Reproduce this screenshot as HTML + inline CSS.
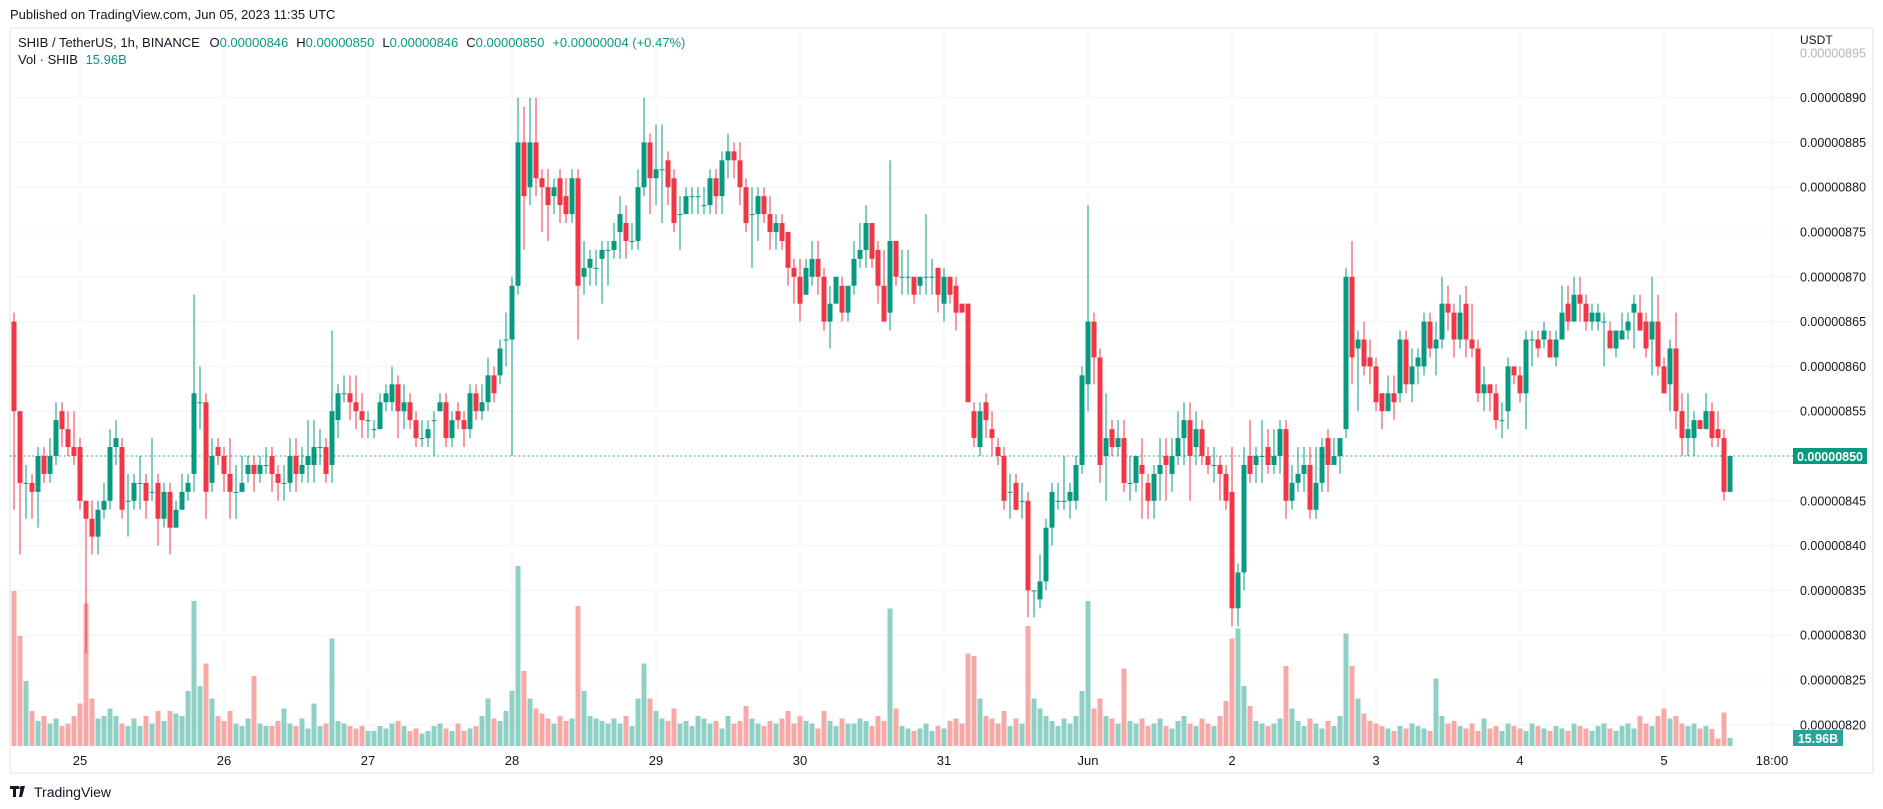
<!DOCTYPE html>
<html><head><meta charset="utf-8"><style>
html,body{margin:0;padding:0;background:#fff;width:1883px;height:809px;overflow:hidden;font-family:"Liberation Sans",sans-serif}
svg{display:block}
</style></head><body>
<svg id="chart" width="1883" height="809" viewBox="0 0 1883 809" xmlns="http://www.w3.org/2000/svg">
<rect x="0" y="0" width="1883" height="809" fill="#fff"/>
<text x="10" y="19" font-size="13" fill="#131722" font-family="Liberation Sans, sans-serif">Published on TradingView.com, Jun 05, 2023 11:35 UTC</text>
<rect x="10" y="28" width="1863" height="745" fill="none" stroke="#e0e3eb" stroke-width="1"/>
<g id="grid"></g>
<g id="vols"></g>
<line x1="10" y1="456" x2="1793" y2="456" stroke="#089981" stroke-width="1" stroke-dasharray="1.5,3"/>
<g id="candles"></g>
<g id="yaxis"></g>
<g id="xaxis"></g>
<text x="1800" y="44" font-size="12" fill="#131722">USDT</text>
<text x="18" y="47" font-size="13" fill="#131722">SHIB / TetherUS, 1h, BINANCE <tspan dx="6">O</tspan><tspan fill="#089981">0.00000846</tspan><tspan dx="8">H</tspan><tspan fill="#089981">0.00000850</tspan><tspan dx="8">L</tspan><tspan fill="#089981">0.00000846</tspan><tspan dx="8">C</tspan><tspan fill="#089981">0.00000850</tspan><tspan dx="8" fill="#089981">+0.00000004 (+0.47%)</tspan></text>
<text x="18" y="64" font-size="13" fill="#131722">Vol · SHIB <tspan dx="4" fill="#089981">15.96B</tspan></text>
<rect x="1793" y="448" width="74" height="16" fill="#089981"/>
<text x="1830" y="461" font-size="12.5" font-weight="bold" fill="#fff" text-anchor="middle">0.00000850</text>
<rect x="1793" y="730" width="50" height="16" fill="#26a69a"/>
<text x="1818" y="743" font-size="12.5" font-weight="bold" fill="#fff" text-anchor="middle">15.96B</text>
<g>
<path d="M10 786h9v3h-3v8h-3v-8h-3z M21 786h4l-3 11h-3z" fill="#131722"/>
<circle cx="21" cy="788" r="1.6" fill="#131722"/>
<text x="34" y="797" font-size="14" fill="#131722">TradingView</text>
</g>
</svg>
<script>
const opens=[865,855,847,847,846,850,848,850,855,853,851,851,845,843,841,844,845,851,851,845,845,847,847,846,847,843,846,842,844,846,848,856,856,847,851,850,848,846,846,848,849,848,849,850,848,847,847,850,848,849,849,851,851,849,854,857,857,856,855,854,853,853,856,856,858,855,856,854,852,852,854,855,856,852,855,854,853,857,855,856,859,859,863,863,869,885,880,885,881,880,879,881,879,877,881,870,871,871,872,873,873,875,876,874,874,880,885,881,882,883,881,877,877,879,879,878,878,881,879,883,884,883,880,877,877,879,877,875,876,875,871,870,868,870,872,870,865,867,869,866,869,872,873,876,873,869,866,874,870,870,870,869,870,870,871,867,870,869,867,867,855,851,856,853,851,850,846,847,845,845,835,834,836,842,845,845,845,845,849,858,865,861,850,853,851,852,847,847,849,847,845,848,850,848,850,852,854,851,853,850,849,849,848,846,833,837,850,849,850,851,849,850,853,845,847,848,849,844,847,852,849,850,853,870,862,863,861,860,857,855,857,857,863,858,860,860,865,862,863,867,866,863,867,863,862,857,858,857,854,855,860,859,857,863,863,863,863,861,863,867,865,868,867,865,865,865,864,862,863,864,866,866,865,863,865,860,858,862,855,852,852,854,853,855,853,852,846];
const closes=[855,847,847,846,850,848,850,854,853,851,850,845,843,841,844,845,851,852,844,845,847,847,845,846,843,846,842,844,846,847,857,856,846,850,850,848,846,846,847,849,848,849,849,848,847,847,850,848,849,850,851,851,848,855,857,857,856,855,854,854,853,856,857,858,855,856,854,852,852,853,854,856,852,854,854,853,857,855,856,859,857,862,863,869,885,879,885,881,880,878,880,878,877,881,869,871,872,871,873,873,874,877,874,874,880,885,881,882,882,880,876,877,879,879,879,878,881,879,883,884,883,880,876,877,879,877,875,876,874,871,870,867,871,872,870,865,867,870,866,869,872,873,876,872,869,865,874,870,870,870,868,870,870,870,868,870,868,866,866,856,852,855,854,852,850,845,846,844,845,835,835,836,842,846,845,845,846,849,859,865,861,849,852,851,852,847,847,850,848,845,848,849,849,850,852,854,850,853,850,849,849,848,845,833,837,849,848,850,850,849,850,853,845,847,848,849,844,847,851,849,850,852,870,861,863,860,860,856,855,857,856,863,858,860,861,865,862,863,867,866,863,866,863,862,857,858,857,854,854,860,859,857,863,863,862,864,861,863,866,865,868,867,865,866,866,865,862,864,864,865,867,864,862,865,860,857,862,855,852,853,854,853,855,852,852,846,850];
const highs=[866,855,849,848,851,851,852,856,856,855,855,852,845,845,845,847,853,854,852,848,848,850,848,852,848,847,847,845,848,848,868,860,857,852,852,851,852,849,850,850,850,850,851,851,849,849,852,852,851,854,854,853,852,864,858,859,859,859,857,855,854,857,858,860,859,858,857,855,854,854,855,857,857,855,856,855,858,858,858,861,860,863,866,870,890,889,890,890,882,882,881,882,881,882,882,874,873,873,874,874,876,879,878,876,882,890,886,887,887,884,882,879,880,880,880,880,882,882,884,886,885,885,881,880,880,880,879,877,877,875,872,872,872,874,874,871,869,870,870,869,874,876,878,876,874,873,883,874,873,873,870,870,877,872,870,871,870,870,867,867,856,856,857,855,852,851,848,848,847,846,835,839,843,847,847,850,847,850,860,878,866,862,857,854,854,854,850,850,852,848,849,852,852,852,855,856,856,855,854,851,851,850,849,851,838,851,854,851,854,853,853,854,854,849,851,851,851,851,852,853,852,852,871,874,864,865,863,861,857,859,859,864,864,862,862,866,866,865,870,869,867,868,869,867,863,860,858,858,856,861,860,860,864,864,864,865,864,864,869,869,870,870,868,867,867,866,865,864,866,866,868,868,866,870,868,861,863,866,857,857,855,854,857,856,855,853,850];
const lows=[844,839,843,843,842,847,847,849,851,850,849,844,828,839,839,843,844,849,843,841,844,844,843,845,840,842,839,843,844,845,846,853,843,846,849,846,843,843,846,847,846,847,848,846,845,845,846,846,847,847,847,849,847,847,852,856,854,853,852,852,852,853,855,855,852,853,853,851,851,851,850,855,851,851,853,851,852,854,854,855,856,858,860,850,868,873,878,879,875,874,877,876,876,876,863,868,869,869,867,869,872,872,872,873,873,879,877,878,876,878,875,873,877,877,877,877,877,877,877,881,881,878,875,871,874,876,873,873,873,869,867,865,868,869,868,864,862,867,865,865,868,871,871,871,867,865,864,869,868,868,867,868,868,868,866,865,867,864,866,858,851,850,852,850,849,844,843,844,843,832,832,833,835,840,844,844,843,844,848,855,858,847,845,850,850,846,845,846,843,843,843,845,845,846,849,849,845,849,849,848,847,845,844,831,831,835,847,847,847,848,848,848,843,844,846,846,843,843,846,846,849,848,852,858,855,859,858,855,853,855,854,856,857,856,858,859,861,859,862,864,861,862,861,861,856,855,855,853,852,853,858,856,853,860,861,862,861,860,863,864,865,865,864,864,864,860,863,861,863,863,862,864,861,859,859,859,855,853,850,850,850,853,853,851,851,845,846];
const volumes=[310,220,130,70,50,60,45,55,40,45,60,85,285,95,55,60,75,60,45,40,55,40,60,45,70,50,70,65,60,110,290,120,165,95,60,50,70,45,40,55,140,45,40,40,50,75,45,40,55,35,85,40,45,215,50,45,40,35,40,30,30,40,35,45,50,40,30,35,25,30,40,45,35,30,45,30,35,40,60,95,55,50,70,110,360,150,95,75,65,55,45,60,50,55,280,110,60,55,50,45,55,45,60,40,95,165,95,70,55,50,75,45,50,40,60,55,45,50,35,60,45,50,80,55,45,40,50,45,55,70,45,60,50,45,35,70,50,40,55,45,45,55,50,40,60,50,275,75,40,35,30,35,45,30,40,35,50,55,45,185,180,95,60,55,45,70,40,55,45,240,95,75,60,50,40,55,45,60,110,290,75,95,60,55,45,155,50,45,55,40,45,55,40,35,50,60,45,40,55,45,40,60,90,215,235,120,80,50,45,40,45,55,160,75,50,40,55,45,35,50,40,60,225,160,95,65,50,45,40,35,30,40,35,45,40,35,30,135,60,45,50,40,35,45,30,55,35,40,30,45,40,35,30,45,40,35,30,40,35,30,45,40,35,30,40,45,35,30,40,45,35,60,45,40,60,75,55,60,45,40,45,35,40,34,15,67,16];
const priceTicks=[820,825,830,835,840,845,850,855,860,865,870,875,880,885,890,895];
const dayLabels=["25","26","27","28","29","30","31","Jun","2","3","4","5"];
const extraTimeLabel="18:00";

const NS="http://www.w3.org/2000/svg";
const UP="#089981",DN="#F23645",UPV="#8fd0c5",DNV="#f7a9a8";
function xI(i){return 14+6*i;}
function yP(p){return 456-(p-850)*8.96;}
function yV(v){return 746-v*0.5;}
function mk(tag,attrs,parent){const e=document.createElementNS(NS,tag);for(const k in attrs)e.setAttribute(k,attrs[k]);parent.appendChild(e);return e;}
const grid=document.getElementById('grid'),cg=document.getElementById('candles'),vg=document.getElementById('vols'),ya=document.getElementById('yaxis'),xa=document.getElementById('xaxis');
priceTicks.forEach(p=>{
  const y=yP(p);
  if(p<895){const l=mk('line',{x1:10,y1:y,x2:1793,y2:y,stroke:'#f0f3fa','stroke-width':1},grid);
  
  }
  const t=mk('text',{x:1800,y:y+4.5,'font-size':12.5,fill:p===895?'#b2b5be':'#131722'},ya);
  t.textContent='0.00000'+p;
  
  
});
dayLabels.forEach((d,k)=>{
  const x=80+144*k;
  const l=mk('line',{x1:x,y1:28,x2:x,y2:750,stroke:'#f0f3fa','stroke-width':1},grid);
  
  
  const t=mk('text',{x:x,y:765,'font-size':13,fill:'#131722','text-anchor':'middle'},xa);
  t.textContent=d;
  
  
});
{const x=xI(293);
const l=mk('line',{x1:x,y1:28,x2:x,y2:750,stroke:'#f0f3fa','stroke-width':1},grid);


const t=mk('text',{x:x,y:765,'font-size':13,fill:'#131722','text-anchor':'middle'},xa);
t.textContent=extraTimeLabel;

}
closes.forEach((c,i)=>{
  const o=opens[i],up=c>=o,x=xI(i);
  const v=mk('rect',{x:x-2.5,y:yV(volumes[i]),width:5,height:volumes[i]*0.5,fill:up?UPV:DNV},vg);
  
  
  const col=up?UP:DN;
  const w=mk('line',{x1:x,y1:yP(highs[i]),x2:x,y2:yP(lows[i]),stroke:col,'stroke-width':1},cg);
  
  
  const top=yP(Math.max(o,c)),bot=yP(Math.min(o,c));
  const b=mk('rect',{x:x-2.5,y:top,width:5,height:Math.max(1,bot-top),fill:col},cg);
  
  
});
</script>
</body></html>
